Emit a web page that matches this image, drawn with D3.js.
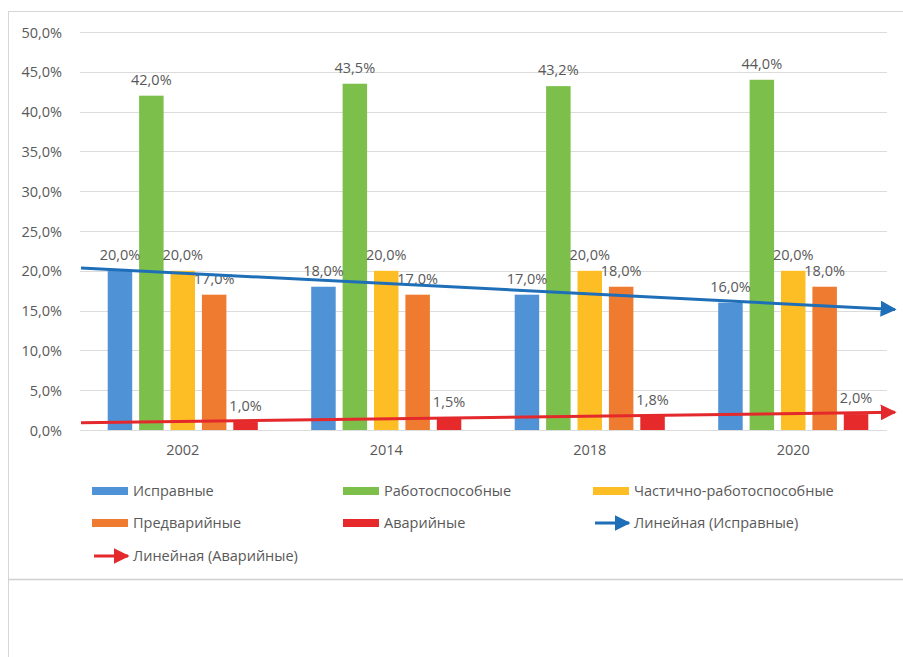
<!DOCTYPE html>
<html>
<head>
<meta charset="utf-8">
<script src="https://cdn.jsdelivr.net/npm/d3@7"></script>
<style>
  body { margin: 0; background: #fff; }
  svg text { font-family: "Open Sans", sans-serif; fill: #595959; }
</style>
</head>
<body>
<div id="chart"></div>
<script>
const years = ["2002", "2014", "2018", "2020"];
const seriesNames = ["Исправные", "Работоспособные", "Частично-работоспособные", "Предварийные", "Аварийные"];
const ispravnye = [20.0, 18.0, 17.0, 16.0];
const rabotosposobnye = [42.0, 43.5, 43.2, 44.0];
const chastichno = [20.0, 20.0, 20.0, 20.0];
const predavariynye = [17.0, 17.0, 18.0, 18.0];
const avariynye = [1.0, 1.5, 1.8, 2.0];
const yTicks = [0, 5, 10, 15, 20, 25, 30, 35, 40, 45, 50];
const trendNames = ["Линейная (Исправные)", "Линейная (Аварийные)"];

const colors = ["#4f93d6", "#7cc04b", "#fdbd25", "#ee7b30", "#e62a2c"];
const trendColors = ["#1f6fb8", "#e4292c"];

const width = 903, height = 657;
const plot = { left: 81, right: 895, top: 32, bottom: 430 };

const values = [ispravnye, rabotosposobnye, chastichno, predavariynye, avariynye];
const fmt = (v) => v.toFixed(1).replace(".", ",") + "%";

const svg = d3.select("#chart").append("svg")
  .attr("width", width).attr("height", height);

// frame like the original screenshot
svg.append("line").attr("x1", 8).attr("x2", width).attr("y1", 11.5).attr("y2", 11.5).attr("stroke", "#d6d6d6");
svg.append("line").attr("x1", 8.5).attr("x2", 8.5).attr("y1", 11).attr("y2", height).attr("stroke", "#d6d6d6");
svg.append("line").attr("x1", 8).attr("x2", width).attr("y1", 579.5).attr("y2", 579.5).attr("stroke", "#d0d0d0").attr("stroke-width", 1.5);

const x0 = d3.scaleBand().domain(years).range([plot.left, plot.right])
  .paddingInner(0.2285).paddingOuter(0.11425);
const x1 = d3.scaleBand().domain(seriesNames).range([0, x0.bandwidth()])
  .paddingInner(0.22).paddingOuter(0.11);
const y = d3.scaleLinear().domain([0, 50]).range([plot.bottom, plot.top]);

// gridlines
svg.append("g").selectAll("line").data(yTicks).join("line")
  .attr("x1", plot.left - 1).attr("x2", plot.right - 8)
  .attr("y1", (d) => Math.round(y(d)) + 0.5).attr("y2", (d) => Math.round(y(d)) + 0.5)
  .attr("stroke", "#dcdcdc").attr("stroke-width", 1);

// y axis labels
const yAxis = svg.append("g").attr("transform", `translate(${plot.left - 16},0)`)
  .call(d3.axisLeft(y).tickValues(yTicks).tickSize(0).tickFormat(fmt));
yAxis.select(".domain").remove();
yAxis.selectAll("text").attr("font-size", "14.5px").attr("fill", "#595959").attr("dy", "0.35em");

// x axis labels
const xAxis = svg.append("g").attr("transform", `translate(0,${plot.bottom})`)
  .call(d3.axisBottom(x0).tickSize(0).tickPadding(15));
xAxis.select(".domain").remove();
xAxis.selectAll("text").attr("font-size", "14.5px").attr("fill", "#595959");

// bars
const groups = svg.append("g").selectAll("g").data(years).join("g")
  .attr("transform", (d) => `translate(${x0(d)},0)`);

groups.selectAll("rect")
  .data((d, i) => seriesNames.map((s, j) => ({ s, j, v: values[j][i] })))
  .join("rect")
  .attr("x", (d) => x1(d.s))
  .attr("y", (d) => y(d.v))
  .attr("width", x1.bandwidth())
  .attr("height", (d) => y(0) - y(d.v))
  .attr("fill", (d) => colors[d.j]);

// trend lines (linear fit, extended half a category on both sides)
function linFit(vals) {
  const xs = vals.map((_, i) => i + 1);
  const mx = d3.mean(xs), my = d3.mean(vals);
  const slope = d3.sum(xs, (xv, i) => (xv - mx) * (vals[i] - my)) / d3.sum(xs, (xv) => (xv - mx) ** 2);
  return (xv) => my + slope * (xv - mx);
}
const xCat = d3.scaleLinear().domain([0.5, years.length + 0.5]).range([plot.left, plot.right]);

const defs = svg.append("defs");
trendColors.forEach((c, i) => {
  defs.append("marker").attr("id", "arrow" + i)
    .attr("viewBox", "0 0 10 10").attr("refX", 9).attr("refY", 5)
    .attr("markerWidth", 16).attr("markerHeight", 16)
    .attr("markerUnits", "userSpaceOnUse").attr("orient", "auto")
    .append("path").attr("d", "M0,0 L10,5 L0,10 Z").attr("fill", c);
});

[ispravnye, avariynye].forEach((vals, i) => {
  const f = linFit(vals);
  const xa = 0.5, xb = years.length + 0.5;
  svg.append("line")
    .attr("x1", xCat(xa)).attr("y1", y(f(xa)))
    .attr("x2", xCat(xb)).attr("y2", y(f(xb)))
    .attr("stroke", trendColors[i]).attr("stroke-width", 3)
    .attr("marker-end", `url(#arrow${i})`);
});

// data labels
groups.selectAll("text.lbl")
  .data((d, i) => seriesNames.map((s, j) => ({ s, j, v: values[j][i] })))
  .join("text").attr("class", "lbl")
  .attr("x", (d) => x1(d.s) + x1.bandwidth() / 2)
  .attr("y", (d) => y(d.v) - 11)
  .attr("text-anchor", "middle")
  .attr("font-size", "14.5px")
  .text((d) => fmt(d.v));

// legend
const legendItems = [
  { name: seriesNames[0], type: "bar", color: colors[0] },
  { name: seriesNames[1], type: "bar", color: colors[1] },
  { name: seriesNames[2], type: "bar", color: colors[2] },
  { name: seriesNames[3], type: "bar", color: colors[3] },
  { name: seriesNames[4], type: "bar", color: colors[4] },
  { name: trendNames[0], type: "line", color: trendColors[0], idx: 0 },
  { name: trendNames[1], type: "line", color: trendColors[1], idx: 1 },
];
const legColX = [92, 343, 593];
const legRowY = [491, 523, 556];

const leg = svg.append("g").selectAll("g").data(legendItems).join("g")
  .attr("transform", (d, i) => `translate(${legColX[i % 3]},${legRowY[Math.floor(i / 3)]})`);

leg.filter((d) => d.type === "bar").append("rect")
  .attr("x", 0).attr("y", -4).attr("width", 36).attr("height", 8)
  .attr("fill", (d) => d.color);

leg.filter((d) => d.type === "line").append("line")
  .attr("x1", 2).attr("x2", 36).attr("y1", 0).attr("y2", 0)
  .attr("stroke", (d) => d.color).attr("stroke-width", 3)
  .attr("marker-end", (d) => `url(#arrow${d.idx})`);

leg.append("text")
  .attr("x", 41).attr("y", 0).attr("dy", "0.35em")
  .attr("font-size", "14.5px")
  .text((d) => d.name);
</script>
</body>
</html>
